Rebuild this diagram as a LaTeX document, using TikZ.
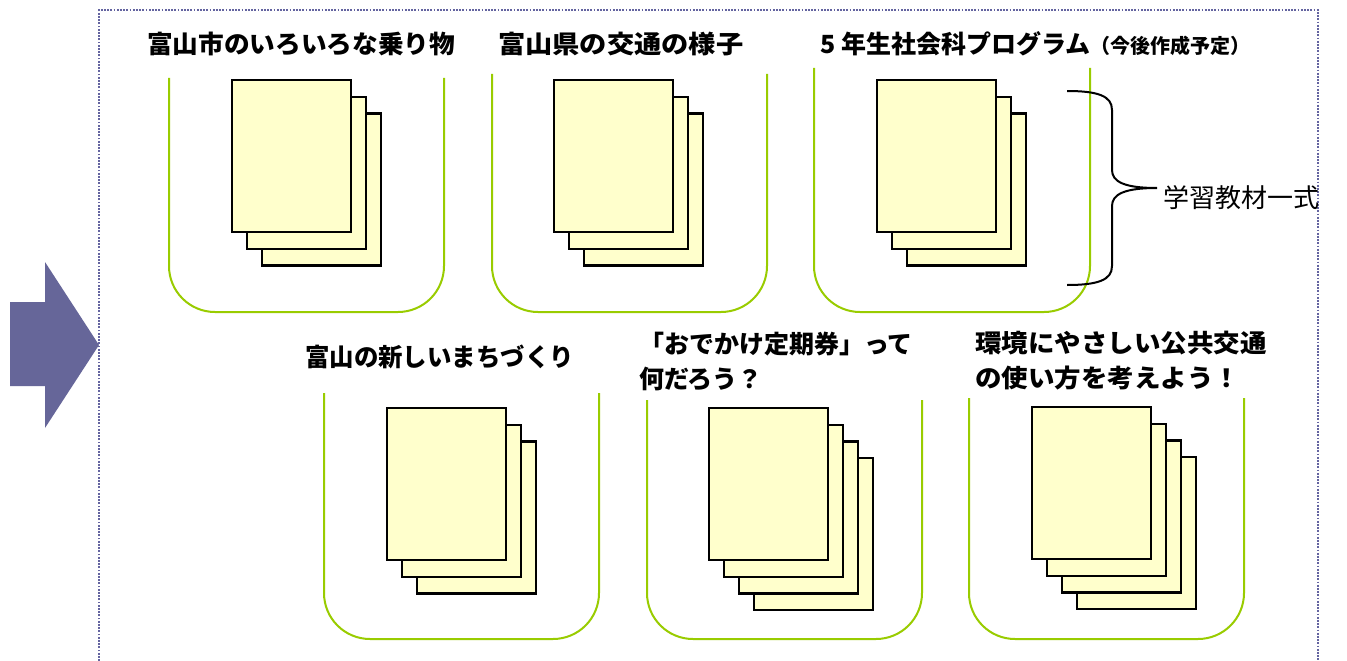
\documentclass[tikz,border=0pt]{standalone}
\usepackage{fontspec}
\newfontfamily\jp{Noto Sans CJK JP}
\definecolor{grn}{RGB}{153,204,0}
\definecolor{paper}{RGB}{255,255,204}
\definecolor{arrowc}{RGB}{102,102,153}
\definecolor{dotc}{RGB}{100,100,160}
\newcommand\docstack[4]{\foreach \k in {#4,...,0}{\node[sheet] (#1\k) at ({#2+15*\k},{#3+16.7*\k}) {};}}
\begin{document}
\begin{tikzpicture}[x=1pt,y=-1pt,
  gbox/.style={draw=grn, line width=2pt, rounded corners=46pt},
  sheet/.style={draw=black, fill=paper, line width=2.2pt, minimum width=119pt, minimum height=152pt, inner sep=0pt, anchor=north west},
  ttl/.style={font=\jp\bfseries\fontsize{25}{35}\selectfont, anchor=west, inner sep=0pt, align=left, transform shape},
  lbl/.style={font=\jp\fontsize{26}{30}\selectfont, anchor=west, inner sep=0pt},
  frame/.style={draw=dotc, line width=2pt, dash pattern=on 1.8pt off 1.4pt},
  bigarrow/.style={fill=arrowc, draw=none},
  bracec/.style={draw=black, line width=2pt}]
\useasboundingbox (0,0) rectangle (1347,661);
\fill[white] (0,0) rectangle (1347,661);

% dotted frame
\draw[frame] (99,661) -- (99,10) -- (1318,10) -- (1318,661);

% big arrow
\fill[bigarrow] (10,302) -- (45,302) -- (45,262) -- (99,345) -- (45,428) -- (45,386) -- (10,386) -- cycle;

% green open boxes
\draw[gbox] (169,78) -- (169,312) -- (444,312) -- (444,78);
\draw[gbox] (492,74) -- (492,312) -- (767,312) -- (767,74);
\draw[gbox] (814,68) -- (814,312) -- (1090,312) -- (1090,68);
\draw[gbox] (324,393) -- (324,639) -- (599,639) -- (599,393);
\draw[gbox] (647,400) -- (647,639) -- (922,639) -- (922,400);
\draw[gbox] (969,398) -- (969,639) -- (1244,639) -- (1244,398);

% stacks of documents
\docstack{a}{231}{79}{2}
\docstack{b}{553}{79}{2}
\docstack{c}{876}{79}{2}
\docstack{d}{386}{407}{2}
\docstack{e}{708}{407}{3}
\docstack{f}{1031}{406}{3}

% titles
\node[ttl, xscale=1.027] (t1) at (147,44) {富山市のいろいろな乗り物};
\node[ttl, xscale=1.09] (t2) at (498,44) {富山県の交通の様子};
\node[ttl] (t3) at (820,44) {5 年生社会科プログラム{\fontsize{20}{22}\selectfont（今後作成予定）}};
\node[ttl, xscale=0.977] (t4) at (305,357) {富山の新しいまちづくり};
\node[ttl] (t5) at (639,361) {「おでかけ定期券」って\\何だろう？};
\node[ttl, xscale=1.06] (t6) at (975,361) {環境にやさしい公共交通\\の使い方を考えよう！};

% brace and label
\coordinate (bt) at (1067,91);
\coordinate (bb) at (1067,285);
\coordinate (bm) at (1157,188);
\node[lbl] (lab) at (1163,198) {学習教材一式};
\draw[bracec] (bt) .. controls (1098,91) and (1112,96) .. (1112,110) -- (1112,170)
  .. controls (1112,182) and (1125,188) .. (bm)
  .. controls (1125,188) and (1112,194) .. (1112,206) -- (1112,266)
  .. controls (1112,280) and (1098,285) .. (bb);
\end{tikzpicture}
\end{document}
